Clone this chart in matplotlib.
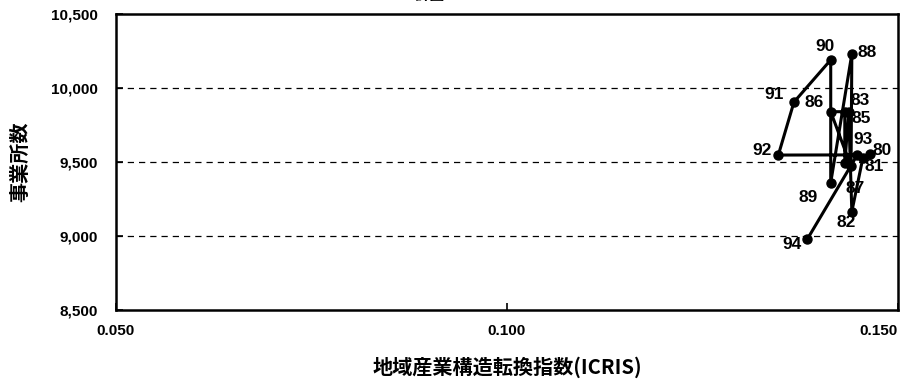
import matplotlib
matplotlib.use("Agg")
import matplotlib.pyplot as plt
from matplotlib import font_manager as fm
from matplotlib.ticker import FuncFormatter, FixedLocator

years = ["80", "81", "82", "83", "84", "85", "86", "87", "88", "89", "90", "91", "92", "93", "94"]
icris = [0.1464, 0.1455, 0.1441, 0.1437, 0.1432, 0.1432, 0.1414, 0.1440, 0.1441, 0.1414,
         0.1414, 0.1367, 0.1347, 0.1448, 0.1384]
offices = [9555, 9525, 9165, 9835, 9490, 9840, 9840, 9470, 10230, 9360,
           10190, 9905, 9547, 9548, 8978]

# label offsets in points (style only)
label_off = {"80": (2, -3), "81": (1, -11), "82": (-11, -13), "83": (1, 3), "84": (-30, -30),
             "85": (5, -10), "86": (-19, 1), "87": (-4, -21), "88": (4, -4), "89": (-23, -16),
             "90": (-11, 4), "91": (-21, 0), "92": (-19, -2), "93": (-3, 6), "94": (-18, -9)}
hidden = {"84"}

# locate a wide (non-narrow) bold sans font file
bold_path = None
for f in fm.fontManager.ttflist:
    if f.name == 'Liberation Sans' and f.weight in (700, 'bold') and f.style == 'normal' \
            and 'Narrow' not in f.fname:
        bold_path = f.fname
        break
if bold_path:
    def NUMP(size):
        return fm.FontProperties(fname=bold_path, size=size)
else:
    def NUMP(size):
        return fm.FontProperties(family='DejaVu Sans', weight='bold', size=size)

JP = ['Noto Sans CJK JP', 'Liberation Sans']

fig = plt.figure(figsize=(9.11, 3.83), dpi=100)
ax = fig.add_axes([0.1273, 0.1906, 0.8584, 0.7728])

ax.plot(icris, offices, color='black', lw=2.2, marker='o', ms=6.5, zorder=3)
for y, x, v in zip(years, icris, offices):
    if y in hidden:
        continue
    dx, dy = label_off[y]
    ax.annotate(y, (x, v), xytext=(dx, dy), textcoords='offset points',
                fontproperties=NUMP(12.5), ha='left', va='bottom', zorder=4)

ax.set_xlim(0.05, 0.15)
ax.set_ylim(8500, 10500)
ax.xaxis.set_major_locator(FixedLocator([0.05, 0.10, 0.15]))
ax.yaxis.set_major_locator(FixedLocator([8500, 9000, 9500, 10000, 10500]))
ax.xaxis.set_major_formatter(FuncFormatter(lambda v, p: f"{v:.3f}"))
ax.yaxis.set_major_formatter(FuncFormatter(lambda v, p: f"{int(round(v)):,}"))
ax.tick_params(direction='in', length=5, width=1.2)
ax.tick_params(axis='y', pad=13)
ax.tick_params(axis='x', pad=10)
fig.canvas.draw()
for lab in ax.get_xticklabels() + ax.get_yticklabels():
    lab.set_fontproperties(NUMP(11))
xl = ax.get_xticklabels()
xl[-1].set_horizontalalignment('right')

for yv in [9000, 9500, 10000]:
    ax.axhline(yv, color='black', lw=0.9, ls=(0, (5, 4)), zorder=1)

for s in ax.spines.values():
    s.set_linewidth(1.8)

ax.set_xlabel("地域産業構造転換指数(ICRIS)", fontsize=14.5, fontweight='bold',
              family=JP, labelpad=13)
ax.set_ylabel("事業所数", fontsize=14.5, fontweight='bold', family=JP, labelpad=15)

fig.text(0.472, 1.014, "計画", fontsize=11, fontweight='bold', ha='center', va='center',
         family=['Noto Sans CJK JP', 'DejaVu Sans'])

fig.savefig("out.png", dpi=100)
